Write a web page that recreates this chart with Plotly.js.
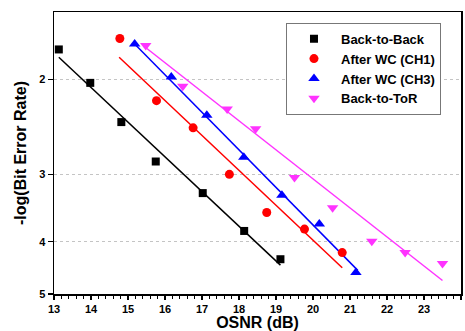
<!DOCTYPE html>
<html>
<head>
<meta charset="utf-8">
<script src="https://cdn.plot.ly/plotly-3.0.1.min.js"></script>
<style>html,body{margin:0;padding:0;background:#fff;}#chart{width:465px;height:331px;}</style>
</head>
<body>
<div id="chart"></div>
<script>
// Data
const seriesNames = ["Back-to-Back", "After WC (CH1)", "After WC (CH3)", "Back-to-ToR"];

const b2bOsnr = [13.13, 13.98, 14.82, 15.75, 17.02, 18.14, 19.12];
const b2bLogBer = [1.76, 2.03, 2.40, 2.84, 3.25, 3.82, 4.31];
const b2bFitOsnr = [13.13, 19.12];
const b2bFitLogBer = [1.82, 4.42];

const ch1Osnr = [14.78, 15.77, 16.76, 17.74, 18.75, 19.77, 20.79];
const ch1LogBer = [1.68, 2.19, 2.46, 3.00, 3.53, 3.79, 4.19];
const ch1FitOsnr = [14.76, 20.79];
const ch1FitLogBer = [1.82, 4.47];

const ch3Osnr = [15.18, 16.17, 17.13, 18.13, 19.16, 20.17, 21.16];
const ch3LogBer = [1.72, 1.98, 2.33, 2.79, 3.28, 3.71, 4.56];
const ch3FitOsnr = [15.18, 21.21];
const ch3FitLogBer = [1.72, 4.52];

const torOsnr = [15.48, 16.48, 17.68, 18.45, 19.50, 20.53, 21.59, 22.49, 23.50];
const torLogBer = [1.73, 2.06, 2.27, 2.47, 3.04, 3.46, 3.99, 4.19, 4.39];
const torFitOsnr = [15.45, 23.50];
const torFitLogBer = [1.74, 4.72];

const xTickVals = [13, 14, 15, 16, 17, 18, 19, 20, 21, 22, 23, 24];
const yTickVals = [2, 3, 4, 5];

const colors = ["#000000", "#ff0000", "#0000ff", "#ff33ff"];
const symbols = ["square", "circle", "triangle-up", "triangle-down"];
const sizes = [8, 9, 10, 10];

const pts = [[b2bOsnr, b2bLogBer], [ch1Osnr, ch1LogBer], [ch3Osnr, ch3LogBer], [torOsnr, torLogBer]];
const fits = [[b2bFitOsnr, b2bFitLogBer], [ch1FitOsnr, ch1FitLogBer], [ch3FitOsnr, ch3FitLogBer], [torFitOsnr, torFitLogBer]];

const traces = [];
fits.forEach((f, i) => {
  traces.push({x: f[0], y: f[1], mode: "lines", type: "scatter", showlegend: false,
    line: {color: colors[i], width: 1.5}, hoverinfo: "skip"});
});
pts.forEach((p, i) => {
  traces.push({x: p[0], y: p[1], mode: "markers", type: "scatter", name: seriesNames[i],
    marker: {symbol: symbols[i], color: colors[i], size: sizes[i]}});
});

const fam = "Liberation Sans, Arial, sans-serif";
const layout = {
  width: 465, height: 331,
  margin: {l: 54, r: 4, t: 12, b: 37},
  paper_bgcolor: "#ffffff", plot_bgcolor: "#ffffff",
  showlegend: true,
  legend: {x: 0.57, y: 0.962, xanchor: "left", yanchor: "top",
    bordercolor: "#777777", borderwidth: 1, bgcolor: "#ffffff",
    font: {family: fam, size: 13, color: "#000", weight: "bold"},
    tracegroupgap: 0, itemwidth: 44},
  xaxis: {
    range: [13, 24], tickvals: xTickVals, ticktext: xTickVals.map(String),
    ticks: "outside", ticklen: 4, tickwidth: 1.2, tickcolor: "#000",
    minor: {dtick: 0.2, ticks: "outside", ticklen: 3, tickcolor: "#000", showgrid: false},
    showline: true, linecolor: "#000", linewidth: 1.5, mirror: true,
    showgrid: false, zeroline: false,
    tickfont: {family: fam, size: 11, color: "#000", weight: "bold"},
    title: {text: "OSNR (dB)", standoff: 8, font: {family: fam, size: 16, color: "#000", weight: "bold"}}
  },
  yaxis: {
    type: "log", range: [Math.log10(5), Math.log10(1.5)],
    tickvals: yTickVals, ticktext: yTickVals.map(String),
    ticks: "outside", ticklen: 5, tickwidth: 1.2, tickcolor: "#000",
    showline: true, linecolor: "#000", linewidth: 1.5, mirror: true,
    showgrid: true, gridcolor: "#c4c4c4", griddash: "dot", gridwidth: 1,
    zeroline: false,
    tickfont: {family: fam, size: 11, color: "#000", weight: "bold"},
    title: {text: "-log(Bit Error Rate)", standoff: 8, font: {family: fam, size: 16, color: "#000", weight: "bold"}}
  }
};

Plotly.newPlot("chart", traces, layout, {displayModeBar: false, staticPlot: true});
</script>
</body>
</html>
